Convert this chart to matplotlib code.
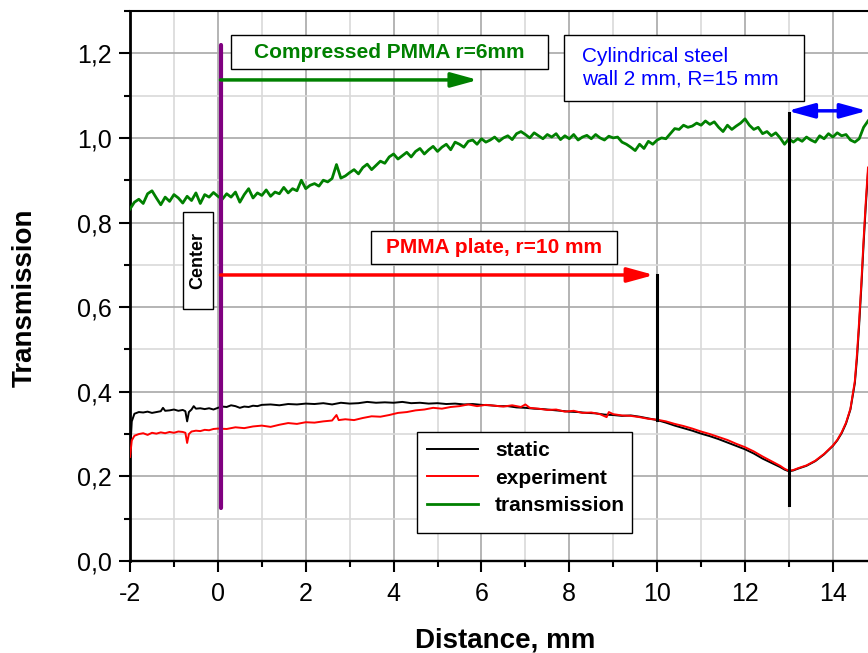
import numpy as np
import matplotlib
matplotlib.use("Agg")
import matplotlib.pyplot as plt
from matplotlib.patches import Rectangle
from matplotlib.ticker import MultipleLocator, FuncFormatter

plt.rcParams["font.family"] = ["Liberation Sans", "DejaVu Sans"]

# ---- transmission ratio (green), sampled every 0.1 mm from -2.0 to 14.8 ----
x_trans = np.round(np.arange(-2.0, 14.81, 0.1), 2)
y_trans = [
    0.832, 0.848, 0.855, 0.845, 0.868, 0.875, 0.858, 0.842, 0.860, 0.850, 0.866,
    0.858, 0.846, 0.862, 0.852, 0.870, 0.845, 0.866, 0.860, 0.871, 0.862,
    0.855, 0.868, 0.860, 0.872, 0.848, 0.866, 0.880, 0.858, 0.870, 0.864,
    0.877, 0.862, 0.872, 0.868, 0.883, 0.870, 0.880, 0.875, 0.900, 0.880,
    0.888, 0.892, 0.886, 0.900, 0.896, 0.904, 0.937, 0.905, 0.910, 0.918,
    0.925, 0.915, 0.930, 0.938, 0.925, 0.935, 0.945, 0.940, 0.955, 0.962,
    0.950, 0.958, 0.966, 0.955, 0.968, 0.975, 0.962, 0.972, 0.980, 0.968,
    0.978, 0.985, 0.972, 0.990, 0.985, 0.978, 0.992, 0.995, 0.985, 0.998,
    0.990, 0.995, 1.002, 0.992, 1.000, 1.005, 0.996, 1.010, 1.015, 1.008,
    1.000, 1.012, 1.005, 0.998, 1.008, 1.002, 1.010, 0.996, 1.005, 0.998,
    1.008, 0.995, 1.002, 1.006, 0.998, 1.008, 1.000, 0.995, 1.004, 1.000,
    1.002, 0.990, 0.985, 0.978, 0.970, 0.985, 0.975, 0.992, 0.985, 0.995,
    1.000, 0.998, 1.010, 1.022, 1.020, 1.030, 1.025, 1.028, 1.035, 1.030,
    1.040, 1.032, 1.038, 1.025, 1.015, 1.030, 1.020, 1.028, 1.035, 1.045,
    1.030, 1.020, 1.025, 1.010, 1.015, 1.005, 1.012, 1.000, 0.985, 0.998,
    0.990, 0.998, 0.992, 1.002, 0.995, 0.990, 1.005, 0.998, 1.010, 1.002,
    1.012, 1.005, 1.008, 0.995, 0.990, 0.998, 1.025, 1.040,
]

# ---- static measurement (black) ----
x_static = [
    -2.00, -1.96, -1.90, -1.80, -1.70, -1.60, -1.50, -1.40, -1.30, -1.25, -1.20,
    -1.10, -1.00, -0.90, -0.80, -0.74, -0.70, -0.66, -0.60, -0.55, -0.50, -0.40,
    -0.30, -0.20, -0.10, 0.00, 0.10, 0.20, 0.30, 0.40, 0.50, 0.60, 0.70, 0.80,
    0.90, 1.00, 1.20, 1.40, 1.60, 1.80, 2.00, 2.20, 2.40, 2.60, 2.80, 3.00,
    3.20, 3.40, 3.60, 3.80, 4.00, 4.20, 4.40, 4.60, 4.80, 5.00, 5.20, 5.40,
    5.60, 5.80, 6.00, 6.20, 6.40, 6.60, 6.80, 7.00, 7.20, 7.40, 7.60, 7.80,
    8.00, 8.20, 8.40, 8.60, 8.80, 9.00, 9.20, 9.40, 9.60, 9.80, 10.00, 10.20,
    10.40, 10.60, 10.80, 11.00, 11.20, 11.40, 11.60, 11.80, 12.00, 12.20, 12.40,
    12.60, 12.80, 12.90, 13.00, 13.10, 13.20, 13.40, 13.60, 13.80, 14.00, 14.10,
    14.20, 14.30, 14.40, 14.50, 14.55, 14.60, 14.65, 14.70, 14.75, 14.80,
]
y_static = [
    0.255, 0.330, 0.348, 0.352, 0.351, 0.353, 0.350, 0.352, 0.354, 0.362, 0.355,
    0.356, 0.358, 0.355, 0.357, 0.354, 0.330, 0.352, 0.358, 0.366, 0.360, 0.361,
    0.359, 0.361, 0.358, 0.362, 0.365, 0.364, 0.368, 0.366, 0.362, 0.365, 0.364, 0.367,
    0.366, 0.369, 0.370, 0.368, 0.371, 0.370, 0.372, 0.371, 0.373, 0.370, 0.374, 0.372,
    0.373, 0.376, 0.374, 0.375, 0.374, 0.376, 0.373, 0.374, 0.372, 0.373, 0.371, 0.372,
    0.370, 0.371, 0.369, 0.368, 0.366, 0.366, 0.363, 0.362, 0.360, 0.359, 0.357, 0.355,
    0.353, 0.352, 0.350, 0.349, 0.346, 0.345, 0.343, 0.344, 0.341, 0.337, 0.333, 0.327,
    0.320, 0.314, 0.308, 0.301, 0.295, 0.288, 0.280, 0.272, 0.264, 0.254, 0.242,
    0.232, 0.222, 0.216, 0.212, 0.214, 0.218, 0.225, 0.236, 0.252, 0.272, 0.285,
    0.302, 0.325, 0.358, 0.420, 0.480, 0.560, 0.650, 0.750, 0.840, 0.920,
]

# ---- experiment (red) ----
x_exp = [
    -2.00, -1.96, -1.90, -1.80, -1.70, -1.60, -1.50, -1.40, -1.30, -1.20, -1.10,
    -1.00, -0.90, -0.80, -0.74, -0.70, -0.66, -0.60, -0.50, -0.40, -0.30, -0.20,
    -0.10, 0.00, 0.20, 0.40, 0.60, 0.80, 1.00, 1.20, 1.40, 1.60, 1.80, 2.00,
    2.20, 2.40, 2.60, 2.70, 2.75, 2.90, 3.10, 3.30, 3.50, 3.70, 3.90, 4.10,
    4.30, 4.50, 4.70, 4.90, 5.10, 5.30, 5.50, 5.70, 5.90, 6.10, 6.30, 6.50,
    6.70, 6.90, 7.00, 7.10, 7.30, 7.50, 7.70, 7.90, 8.10, 8.30, 8.50, 8.70,
    8.85, 8.90, 9.00, 9.20, 9.40, 9.60, 9.80, 10.00, 10.20, 10.40, 10.60, 10.80,
    11.00, 11.20, 11.40, 11.60, 11.80, 12.00, 12.20, 12.40, 12.60, 12.80, 12.90,
    13.00, 13.10, 13.20, 13.40, 13.60, 13.80, 14.00, 14.10, 14.20, 14.30, 14.40,
    14.50, 14.55, 14.60, 14.65, 14.70, 14.75, 14.80,
]
y_exp = [
    0.246, 0.285, 0.296, 0.300, 0.302, 0.298, 0.303, 0.301, 0.304, 0.302, 0.305,
    0.303, 0.306, 0.305, 0.303, 0.279, 0.300, 0.306, 0.308, 0.307, 0.310, 0.309,
    0.312, 0.313, 0.312, 0.316, 0.314, 0.318, 0.320, 0.317, 0.322, 0.326, 0.324, 0.328,
    0.327, 0.330, 0.332, 0.345, 0.333, 0.335, 0.333, 0.338, 0.342, 0.341, 0.345, 0.350,
    0.352, 0.356, 0.358, 0.362, 0.360, 0.364, 0.366, 0.370, 0.366, 0.369, 0.367, 0.365,
    0.368, 0.364, 0.370, 0.362, 0.360, 0.357, 0.358, 0.353, 0.355, 0.350, 0.351, 0.347,
    0.340, 0.352, 0.347, 0.344, 0.343, 0.340, 0.336, 0.334, 0.330, 0.324, 0.319, 0.313,
    0.306, 0.300, 0.293, 0.286, 0.277, 0.269, 0.259, 0.247, 0.236, 0.225, 0.218,
    0.213, 0.215, 0.219, 0.226, 0.237, 0.253, 0.273, 0.286, 0.304, 0.327, 0.360,
    0.425, 0.490, 0.570, 0.660, 0.760, 0.850, 0.930,
]

series_labels = ["static", "experiment", "transmission"]

fig = plt.figure(figsize=(8.68, 6.53), dpi=100)
ax = fig.add_axes([0.1498, 0.1409, 0.8502, 0.8423])

ax.plot(x_static, y_static, color="black", lw=1.4, label=series_labels[0], zorder=3)
ax.plot(x_exp, y_exp, color="#ff0000", lw=1.4, label=series_labels[1], zorder=3)
ax.plot(x_trans, y_trans, color="#008000", lw=2.0, label=series_labels[2], zorder=3)

ax.set_xlim(-2, 14.8)
ax.set_ylim(0, 1.3)

ax.xaxis.set_major_locator(MultipleLocator(2))
ax.xaxis.set_minor_locator(MultipleLocator(1))
ax.yaxis.set_major_locator(MultipleLocator(0.2))
ax.yaxis.set_minor_locator(MultipleLocator(0.1))
ax.yaxis.set_major_formatter(FuncFormatter(lambda v, p: f"{v:.1f}".replace(".", ",")))
ax.xaxis.set_major_formatter(FuncFormatter(lambda v, p: f"{v:.0f}"))

ax.set_axisbelow(True)
ax.grid(which="major", color="#a8a8a8", lw=1.2)
ax.grid(which="minor", color="#d9d9d9", lw=1.2)

ax.tick_params(which="major", direction="out", length=8, width=1.5,
               labelsize=18, pad=5, top=False, right=False)
ax.tick_params(axis="x", which="major", pad=7)
ax.tick_params(which="minor", direction="out", length=4.3, width=1.5,
               top=False, right=False)

ax.spines["right"].set_visible(False)
ax.spines["left"].set_linewidth(2.0)
ax.spines["bottom"].set_linewidth(1.7)
ax.spines["top"].set_linewidth(1.5)

ax.set_xlabel("Distance, mm", fontsize=20, fontweight="bold")
ax.set_ylabel("Transmission", fontsize=20, fontweight="bold")
ax.xaxis.set_label_coords(0.508, -0.121)
ax.yaxis.set_label_coords(-0.125, 0.478)

# centre marker
ax.plot([0.06, 0.06], [0.125, 1.22], color="#800080", lw=3.0,
        solid_capstyle="round", zorder=5)

# vertical markers at the plate edge and the wall
ax.plot([10.0, 10.0], [0.333, 0.676], color="black", lw=2.2, zorder=4)
ax.plot([13.0, 13.0], [0.132, 1.06], color="black", lw=2.2, zorder=4)

arrow_style = "-|>,head_length=0.8,head_width=0.22"
ax.annotate("", xy=(5.92, 1.137), xytext=(0.06, 1.137),
            arrowprops=dict(arrowstyle=arrow_style, color="#008000", lw=2.5,
                            mutation_scale=20, shrinkA=0, shrinkB=0), zorder=6)
ax.annotate("", xy=(9.93, 0.676), xytext=(0.06, 0.676),
            arrowprops=dict(arrowstyle=arrow_style, color="#ff0000", lw=2.5,
                            mutation_scale=20, shrinkA=0, shrinkB=0), zorder=6)
ax.annotate("", xy=(14.78, 1.064), xytext=(12.97, 1.064),
            arrowprops=dict(arrowstyle="<|-|>,head_length=0.8,head_width=0.22",
                            color="#0000ff", lw=2.5, mutation_scale=20,
                            shrinkA=0, shrinkB=0), zorder=6)

# text boxes
def boxed(x0, y0, x1, y1):
    ax.add_patch(Rectangle((x0, y0), x1 - x0, y1 - y0, fc="white", ec="black",
                           lw=1.0, zorder=7))

boxed(0.30, 1.163, 7.52, 1.243)
ax.text(3.91, 1.203, "Compressed PMMA r=6mm", color="#008000", fontsize=15,
        fontweight="bold", ha="center", va="center", zorder=8)

boxed(7.89, 1.087, 13.35, 1.243)
ax.text(8.30, 1.165, "Cylindrical steel\nwall 2 mm, R=15 mm", color="#0000ff",
        fontsize=15, ha="left", va="center", linespacing=1.25, zorder=8)

boxed(3.49, 0.702, 9.09, 0.780)
ax.text(6.29, 0.741, "PMMA plate, r=10 mm", color="#ff0000", fontsize=15,
        fontweight="bold", ha="center", va="center", zorder=8)

boxed(-0.79, 0.596, -0.11, 0.825)
ax.text(-0.45, 0.71, "Center", color="black", fontsize=13, fontweight="bold",
        rotation=90, ha="center", va="center", zorder=8)

# legend with a plain rectangular frame
ax.add_patch(Rectangle((0.389, 0.051), 0.2913, 0.1836, transform=ax.transAxes,
                       fc="white", ec="black", lw=1.0, zorder=7))
leg = ax.legend(loc="upper left", bbox_to_anchor=(0.4024, 0.2185), frameon=False,
                borderpad=0, borderaxespad=0, handlelength=2.45, handletextpad=0.82,
                labelspacing=0.42, prop={"weight": "bold", "size": 15})
leg.set_zorder(8)

fig.savefig("out.png", dpi=100)
